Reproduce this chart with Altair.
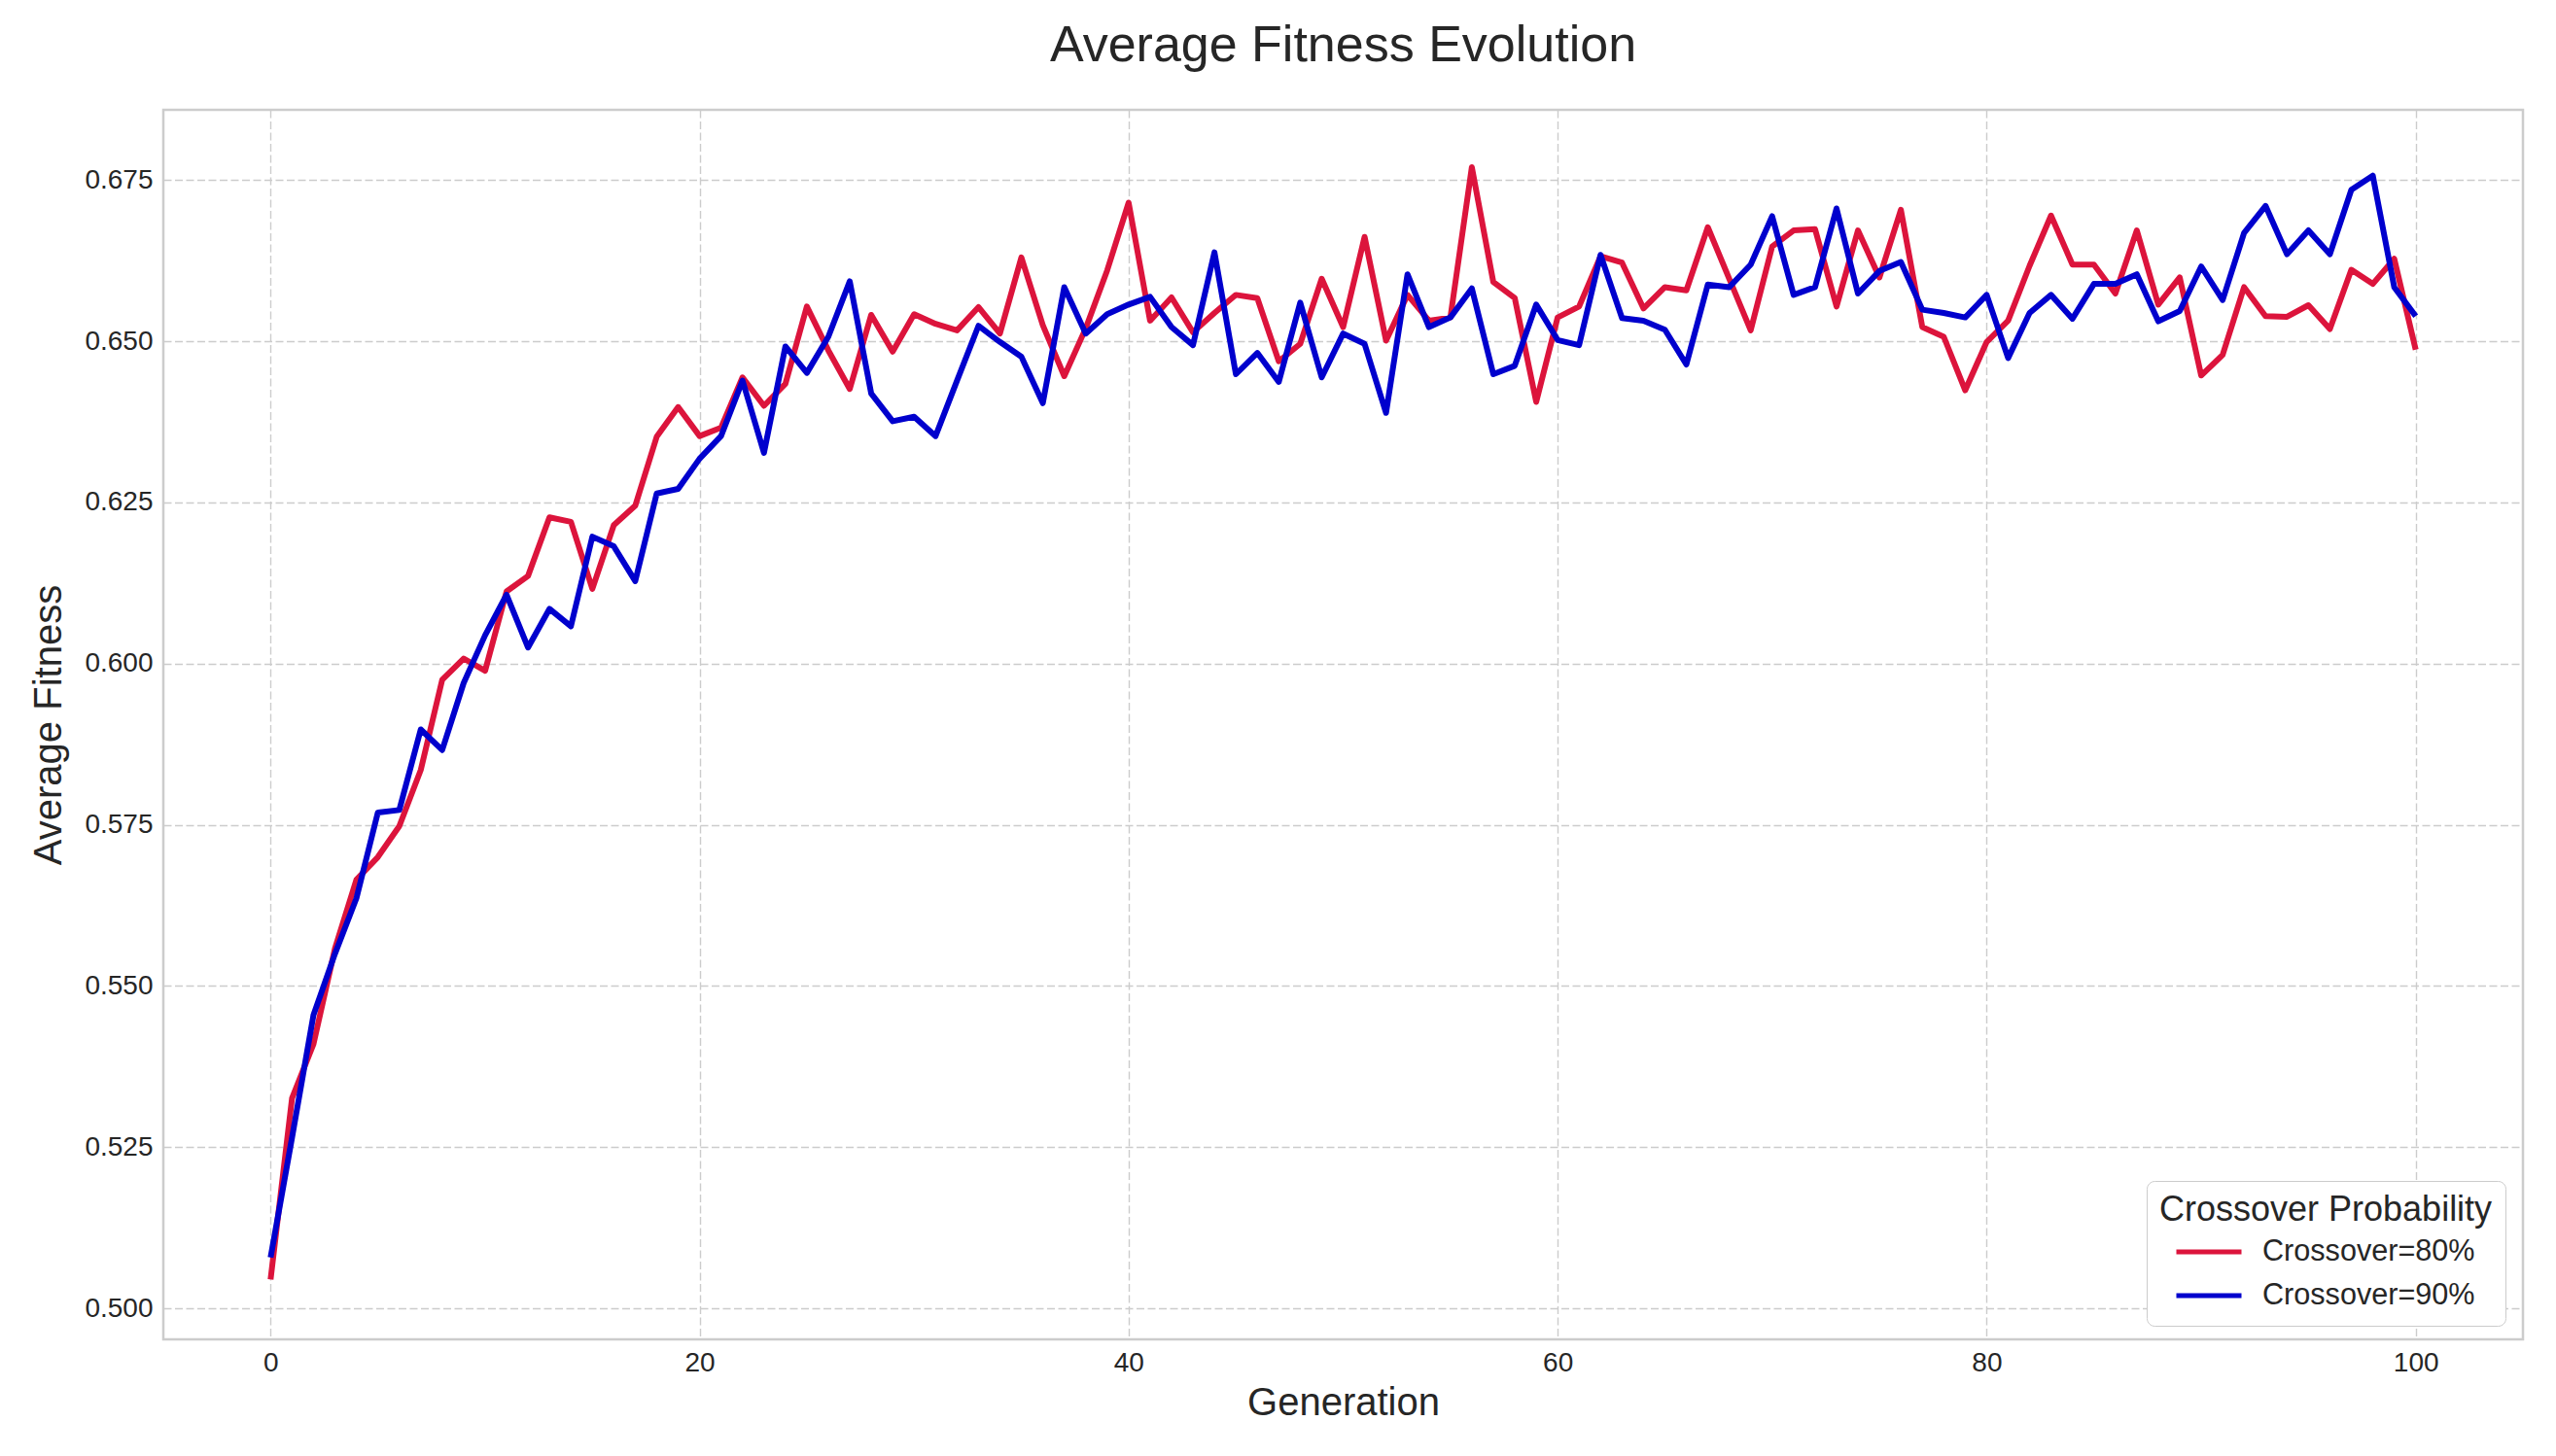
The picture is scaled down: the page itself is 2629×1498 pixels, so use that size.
import altair as alt
import pandas as pd

generations = list(range(101))

fitness_80 = [
    0.5045, 0.5326, 0.5410, 0.5558, 0.5665, 0.5700, 0.5748, 0.5835, 0.5975, 0.6008,
    0.5989, 0.6112, 0.6136, 0.6227, 0.6220, 0.6116, 0.6215, 0.6245, 0.6352, 0.6398,
    0.6353, 0.6366, 0.6444, 0.6400, 0.6434, 0.6554, 0.6486, 0.6426, 0.6541, 0.6484,
    0.6542, 0.6527, 0.6517, 0.6553, 0.6512, 0.6630, 0.6525, 0.6446, 0.6520, 0.6610,
    0.6715, 0.6532, 0.6568, 0.6514, 0.6544, 0.6572, 0.6567, 0.6469, 0.6496, 0.6597,
    0.6522, 0.6662, 0.6501, 0.6572, 0.6532, 0.6537, 0.6770, 0.6592, 0.6567, 0.6406,
    0.6537, 0.6554, 0.6632, 0.6622, 0.6551, 0.6584, 0.6579, 0.6677, 0.6597, 0.6517,
    0.6647, 0.6672, 0.6674, 0.6554, 0.6672, 0.6599, 0.6704, 0.6522, 0.6507, 0.6424,
    0.6499, 0.6532, 0.6617, 0.6695, 0.6619, 0.6619, 0.6574, 0.6672, 0.6557, 0.6599,
    0.6447, 0.6479, 0.6584, 0.6539, 0.6538, 0.6556, 0.6519, 0.6611, 0.6589, 0.6628,
    0.6487,
]

fitness_90 = [
    0.5079, 0.5265, 0.5455, 0.5550, 0.5636, 0.5769, 0.5773, 0.5898, 0.5866, 0.5970,
    0.6044, 0.6107, 0.6025, 0.6085, 0.6058, 0.6197, 0.6182, 0.6128, 0.6264, 0.6271,
    0.6318, 0.6353, 0.6439, 0.6327, 0.6492, 0.6451, 0.6507, 0.6593, 0.6419, 0.6376,
    0.6383, 0.6353, 0.6439, 0.6524, 0.6499, 0.6476, 0.6404, 0.6584, 0.6512, 0.6542,
    0.6557, 0.6569, 0.6522, 0.6494, 0.6638, 0.6449, 0.6482, 0.6437, 0.6560, 0.6444,
    0.6512, 0.6496, 0.6389, 0.6604, 0.6522, 0.6537, 0.6582, 0.6449, 0.6462, 0.6557,
    0.6502, 0.6494, 0.6634, 0.6536, 0.6532, 0.6518, 0.6464, 0.6588, 0.6584, 0.6619,
    0.6694, 0.6572, 0.6584, 0.6706, 0.6574, 0.6609, 0.6623, 0.6549, 0.6544, 0.6537,
    0.6572, 0.6474, 0.6544, 0.6572, 0.6535, 0.6589, 0.6589, 0.6604, 0.6531, 0.6547,
    0.6616, 0.6564, 0.6668, 0.6710, 0.6635, 0.6672, 0.6635, 0.6735, 0.6757, 0.6584,
    0.6539,
]

series_names = ["Crossover=80%", "Crossover=90%"]
series_colors = ["#DC143C", "#0000CD"]
x_ticks = [0, 20, 40, 60, 80, 100]
y_ticks = [0.500, 0.525, 0.550, 0.575, 0.600, 0.625, 0.650, 0.675]

df = pd.concat([
    pd.DataFrame({"Generation": generations, "Fitness": fitness_80, "Series": series_names[0]}),
    pd.DataFrame({"Generation": generations, "Fitness": fitness_90, "Series": series_names[1]}),
])

FONT = "Liberation Sans"
TEXT = "#262626"

chart = alt.Chart(df).mark_line(strokeWidth=6, strokeJoin="round").encode(
    x=alt.X("Generation:Q",
            scale=alt.Scale(domain=[-5, 105], nice=False, zero=False),
            axis=alt.Axis(values=x_ticks, format="d", title="Generation",
                          labelPadding=10, titlePadding=7)),
    y=alt.Y("Fitness:Q",
            scale=alt.Scale(domain=[0.4952, 0.6859], nice=False, zero=False),
            axis=alt.Axis(values=y_ticks, format=".3f", title="Average Fitness",
                          labelPadding=11, titlePadding=16)),
    color=alt.Color("Series:N",
                    scale=alt.Scale(domain=series_names, range=series_colors),
                    legend=alt.Legend(
                        title="Crossover Probability",
                        orient="none", legendX=2040, legendY=1102,
                        fillColor="white", strokeColor="#cccccc", cornerRadius=8,
                        padding=13, symbolType="stroke", symbolSize=4489,
                        symbolStrokeWidth=5, clipHeight=36, rowPadding=9,
                        labelOffset=19, symbolOffset=15, titlePadding=6,
                        labelFont=FONT, labelFontSize=30.6, labelColor=TEXT,
                        titleFont=FONT, titleFontSize=36, titleFontWeight="normal",
                        titleColor=TEXT, labelLimit=400, titleLimit=500)),
).properties(
    width=2427,
    height=1265,
    background="white",
    title=alt.TitleParams("Average Fitness Evolution", font=FONT, fontSize=52,
                          fontWeight="normal", color=TEXT, anchor="middle",
                          offset=39),
    autosize=alt.AutoSizeParams(type="none"),
    padding={"left": 160, "top": 105, "right": 20, "bottom": 100},
).configure_view(
    stroke="#cccccc", strokeWidth=2.5
).configure_axis(
    labelFont=FONT, labelFontSize=28, labelColor=TEXT,
    titleFont=FONT, titleFontSize=40, titleFontWeight="normal", titleColor=TEXT,
    grid=True, gridColor="#cccccc", gridDash=[8, 3.5], gridWidth=1.4,
    domain=False, ticks=False, tickSize=0,
)

chart.save("out.html", embed_options={"renderer": "svg", "actions": False})
